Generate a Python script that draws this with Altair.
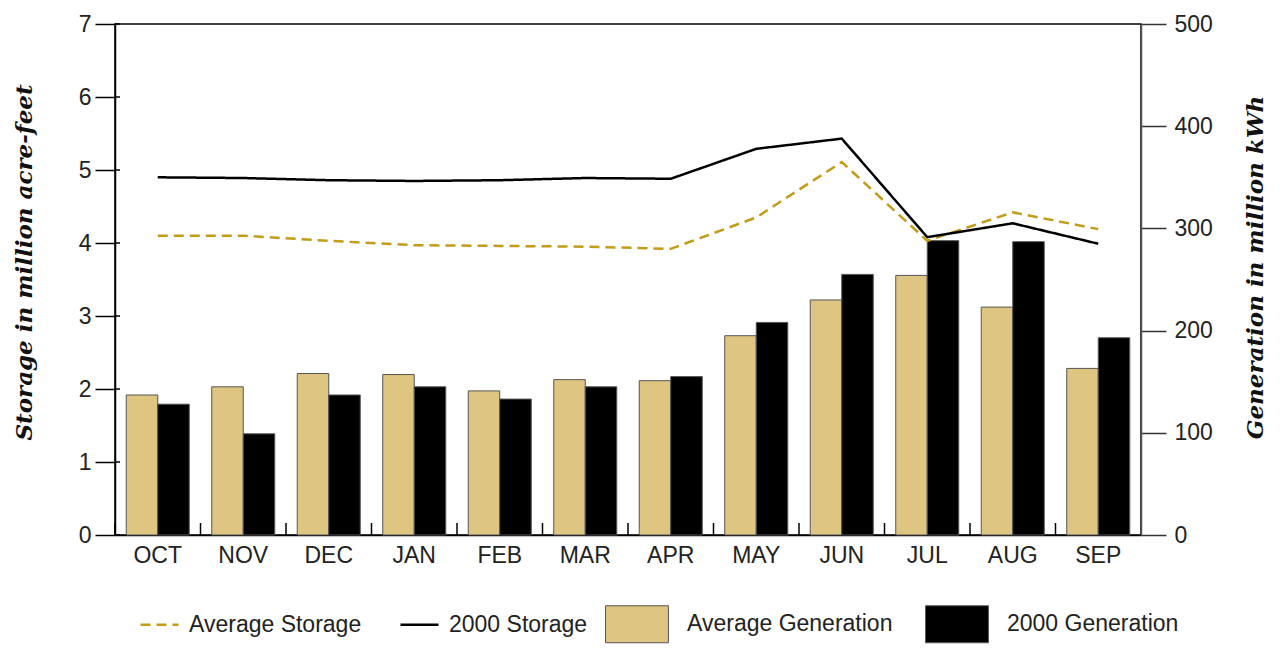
import altair as alt
import pandas as pd

months = ["OCT", "NOV", "DEC", "JAN", "FEB", "MAR", "APR", "MAY", "JUN", "JUL", "AUG", "SEP"]
avg_storage = [4.10, 4.10, 4.03, 3.97, 3.96, 3.95, 3.92, 4.35, 5.11, 4.03, 4.42, 4.19]
storage_2000 = [4.90, 4.89, 4.86, 4.85, 4.86, 4.89, 4.88, 5.29, 5.43, 4.08, 4.27, 3.99]
avg_generation = [137, 145, 158, 157, 141, 152, 151, 195, 230, 254, 223, 163]
generation_2000 = [128, 99, 137, 145, 133, 145, 155, 208, 255, 288, 287, 193]
storage_ticks = [0, 1, 2, 3, 4, 5, 6, 7]
generation_ticks = [0, 100, 200, 300, 400, 500]
line_series = ["Average Storage", "2000 Storage"]
bar_series = ["Average Generation", "2000 Generation"]

df_lines = pd.DataFrame({
    "month": months * 2,
    "series": [line_series[0]] * 12 + [line_series[1]] * 12,
    "storage": avg_storage + storage_2000,
})
df_bars = pd.DataFrame({
    "month": months * 2,
    "series": [bar_series[0]] * 12 + [bar_series[1]] * 12,
    "generation": avg_generation + generation_2000,
})
df_months = pd.DataFrame({"month": months})
df_sticks = pd.DataFrame({"storage": storage_ticks})

W, H = 1026, 511
LABEL_FONT = "Liberation Sans"
TITLE_FONT = "DejaVu Serif"
xscale = alt.Scale(domain=months, paddingInner=0, paddingOuter=0)
sscale = alt.Scale(domain=[0, 7], nice=False)

x_axis = alt.Axis(title=None, labelFontSize=23, labelFont=LABEL_FONT, labelColor="#222222",
                  ticks=False, labelPadding=9, domainColor="black", domainWidth=1.5,
                  labelAngle=0, grid=False)
left_axis = alt.Axis(orient="left", values=storage_ticks, title="Storage in million acre-feet",
                     titleFont=TITLE_FONT, titleFontSize=23, titleFontWeight="bold",
                     titleFontStyle="italic", titleColor="#111111", titlePadding=42,
                     titleY=238,
                     tickSize=20, tickWidth=1.5, tickColor="black",
                     domainColor="black", domainWidth=1.5,
                     labelFontSize=23, labelFont=LABEL_FONT, labelColor="#222222",
                     labelPadding=4, grid=False)
right_axis = alt.Axis(orient="right", values=generation_ticks, title="Generation in million kWh",
                      titleFont=TITLE_FONT, titleFontSize=23, titleFontWeight="bold",
                      titleFontStyle="italic", titleColor="#111111", titleAngle=270,
                      titleBaseline="top", titlePadding=32, titleY=243,
                      tickSize=25, tickWidth=1.5, tickColor="#333333",
                      domainColor="#555555", domainWidth=1.5,
                      labelFontSize=23, labelFont=LABEL_FONT, labelColor="#222222",
                      labelPadding=8, grid=False)

line_legend = alt.Legend(orient="none", legendX=24, legendY=580, direction="horizontal",
                         title=None, symbolType="stroke", symbolSize=1444,
                         symbolStrokeWidth=2.5, labelLimit=400,
                         labelFontSize=23, labelFont=LABEL_FONT, labelColor="#222222",
                         labelOffset=9, columnPadding=33)

bars = alt.Chart(df_bars).mark_bar(stroke="#555555", strokeWidth=1).encode(
    x=alt.X("month:N", scale=xscale, sort=months, axis=x_axis),
    xOffset=alt.XOffset("series:N", sort=bar_series,
                        scale=alt.Scale(domain=bar_series, paddingOuter=0.357, paddingInner=0)),
    y=alt.Y("generation:Q", scale=alt.Scale(domain=[0, 500], nice=False), axis=right_axis),
    fill=alt.Fill("series:N", sort=bar_series,
                  scale=alt.Scale(domain=bar_series, range=["#dec582", "#000000"]),
                  legend=alt.Legend(orient="none", legendX=503, legendY=581, direction="horizontal",
                                    title=None, symbolType="M-1.7,-1H1.7V1H-1.7Z", symbolSize=1369,
                                    symbolStrokeColor="#555555", symbolStrokeWidth=1,
                                    symbolOpacity=1, labelLimit=400,
                                    labelFontSize=23, labelFont=LABEL_FONT, labelColor="#222222",
                                    labelOffset=31, columnPadding=30)),
)

lines = alt.Chart(df_lines).mark_line(strokeWidth=2.5).encode(
    x=alt.X("month:N", scale=xscale, sort=months, axis=x_axis),
    y=alt.Y("storage:Q", scale=sscale, axis=left_axis),
    stroke=alt.Stroke("series:N", sort=line_series,
                      scale=alt.Scale(domain=line_series, range=["#c29b18", "#000000"]),
                      legend=line_legend),
    strokeDash=alt.StrokeDash("series:N", sort=line_series,
                              scale=alt.Scale(domain=line_series, range=[[10, 6], [1, 0]]),
                              legend=line_legend),
)

left_inner_ticks = alt.Chart(df_sticks).mark_rule(color="black", strokeWidth=1.5).encode(
    y=alt.Y("storage:Q", scale=sscale, axis=left_axis),
    x=alt.value(0),
    x2=alt.value(5),
)

x_inner_ticks = alt.Chart(df_months).mark_rule(color="black", strokeWidth=1.5).encode(
    x=alt.X("month:N", scale=xscale, sort=months, bandPosition=0, axis=x_axis),
    y=alt.value(H - 12),
    y2=alt.value(H),
)

chart = alt.layer(
    bars,
    alt.layer(lines, left_inner_ticks),
    x_inner_ticks,
).resolve_scale(y="independent").properties(
    width=W, height=H,
    padding={"left": 5, "top": 5, "right": 0, "bottom": 0},
    background="white",
).configure_view(stroke="black", strokeWidth=1.5)

chart.save("out.html", embed_options={"renderer": "svg", "actions": False})
